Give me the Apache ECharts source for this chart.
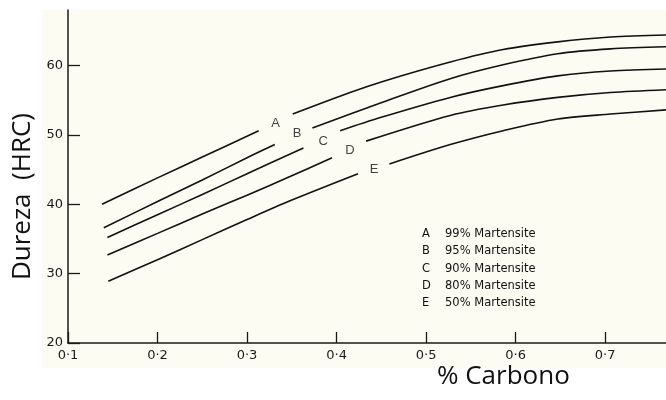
<!DOCTYPE html>
<html><head><meta charset="utf-8">
<script src="https://cdn.jsdelivr.net/npm/echarts@6/dist/echarts.min.js"></script>
<style>html,body{margin:0;padding:0;background:#fff}#c{width:666px;height:400px}</style>
</head><body><div id="c"></div>
<script>
// ---- data ----
const curveNames = ['A', 'B', 'C', 'D', 'E'];
const legendTexts = ['99% Martensite', '95% Martensite', '90% Martensite', '80% Martensite', '50% Martensite'];
const xTickLabels = ['0·1', '0·2', '0·3', '0·4', '0·5', '0·6', '0·7'];
const yTickValues = [20, 30, 40, 50, 60];
// each curve is drawn in two pieces, broken where its letter sits
const aLeft  = [[0.138, 40.0], [0.2, 43.8], [0.25, 46.8], [0.313, 50.6]];
const aRight = [[0.351, 53.0], [0.415, 56.1], [0.449, 57.6], [0.527, 60.5], [0.586, 62.3], [0.647, 63.4], [0.706, 64.1], [0.768, 64.4]];
const bLeft  = [[0.140, 36.6], [0.2, 40.4], [0.25, 43.5], [0.3, 46.7], [0.331, 48.6]];
const bRight = [[0.373, 51.0], [0.449, 54.6], [0.527, 58.1], [0.586, 60.1], [0.647, 61.7], [0.706, 62.4], [0.768, 62.7]];
const cLeft  = [[0.144, 35.2], [0.2, 38.5], [0.25, 41.4], [0.3, 44.4], [0.363, 48.1]];
const cRight = [[0.404, 50.6], [0.449, 52.5], [0.527, 55.4], [0.586, 57.1], [0.647, 58.5], [0.706, 59.2], [0.768, 59.5]];
const dLeft  = [[0.144, 32.7], [0.2, 35.8], [0.25, 38.6], [0.3, 41.3], [0.348, 44.0], [0.395, 46.7]];
const dRight = [[0.433, 49.1], [0.527, 52.8], [0.586, 54.3], [0.647, 55.4], [0.706, 56.1], [0.768, 56.5]];
const eLeft  = [[0.145, 28.9], [0.2, 32.0], [0.25, 34.9], [0.3, 37.8], [0.348, 40.5], [0.424, 44.4]];
const eRight = [[0.459, 45.8], [0.527, 48.6], [0.586, 50.6], [0.647, 52.3], [0.706, 53.0], [0.768, 53.6]];
const letterPositions = [[0.332, 51.7], [0.356, 50.2], [0.385, 49.0], [0.415, 47.8], [0.442, 45.0]];

// ---- chart ----
const pieces = [[aLeft, aRight], [bLeft, bRight], [cLeft, cRight], [dLeft, dRight], [eLeft, eRight]];
const series = [];
pieces.forEach((pp, i) => {
  pp.forEach(d => series.push({
    name: curveNames[i], type: 'line', data: d, smooth: 0.3, showSymbol: false,
    lineStyle: { color: '#111111', width: 1.6 }, itemStyle: { color: '#111111' }, z: 3
  }));
});
series.push({
  type: 'scatter', symbolSize: 0, silent: true,
  data: letterPositions.map((p, i) => ({ value: p, name: curveNames[i] })),
  label: { show: true, position: 'inside', formatter: p => p.name, color: '#111',
           fontFamily: 'Liberation Sans', fontSize: 13 }
});

const chart = echarts.init(document.getElementById('c'), null, { renderer: 'canvas' });
chart.setOption({
  animation: false,
  backgroundColor: '#ffffff',
  graphic: [
    { type: 'rect', z: -10, silent: true, shape: { x: 42, y: 10, width: 624, height: 358 },
      style: { fill: '#fdfcf2' } },
    { type: 'text', left: 10, top: 113, rotation: Math.PI / 2, silent: true,
      style: { text: 'Dureza  (HRC)', font: '26px "Open Sans"', fill: '#111' } },
    { type: 'text', left: 437, top: 364, silent: true,
      style: { text: '% Carbono', font: '26px "Open Sans"', fill: '#111' } }
  ],
  grid: { left: 68, right: 0, top: 10, bottom: 57, containLabel: false },
  legend: {
    data: curveNames, orient: 'vertical', left: 412, top: 223, icon: 'none',
    itemWidth: 0, itemHeight: 12, itemGap: 5.3, selectedMode: false,
    formatter: n => '{l|' + n + '}{t|' + legendTexts[curveNames.indexOf(n)] + '}',
    textStyle: {
      color: '#111', fontFamily: 'DejaVu Sans', fontSize: 11.5,
      rich: { l: { width: 23, fontSize: 11.5, fontFamily: 'DejaVu Sans' },
              t: { fontSize: 11.5, fontFamily: 'DejaVu Sans' } }
    }
  },
  xAxis: {
    type: 'value', min: 0.1, max: 0.768, interval: 0.1,
    axisLine: { lineStyle: { color: '#1a1a1a', width: 1.5 } },
    axisTick: { inside: true, length: 11, lineStyle: { color: '#1a1a1a', width: 1.3 } },
    axisLabel: { showMaxLabel: false, margin: 6, color: '#1a1a1a', fontFamily: 'DejaVu Sans', fontSize: 13,
      formatter: v => xTickLabels[Math.round(v * 10) - 1] || '' },
    splitLine: { show: false }
  },
  yAxis: {
    type: 'value', min: 20, max: 68, interval: 10,
    axisLine: { show: true, lineStyle: { color: '#1a1a1a', width: 1.5 } },
    axisTick: { show: true, inside: true, length: 12, lineStyle: { color: '#1a1a1a', width: 1.3 } },
    axisLabel: { showMaxLabel: false, margin: 5, color: '#1a1a1a', fontFamily: 'DejaVu Sans', fontSize: 13,
      formatter: v => yTickValues.includes(v) ? String(v) : '' },
    splitLine: { show: false }
  },
  series
});
</script></body></html>
